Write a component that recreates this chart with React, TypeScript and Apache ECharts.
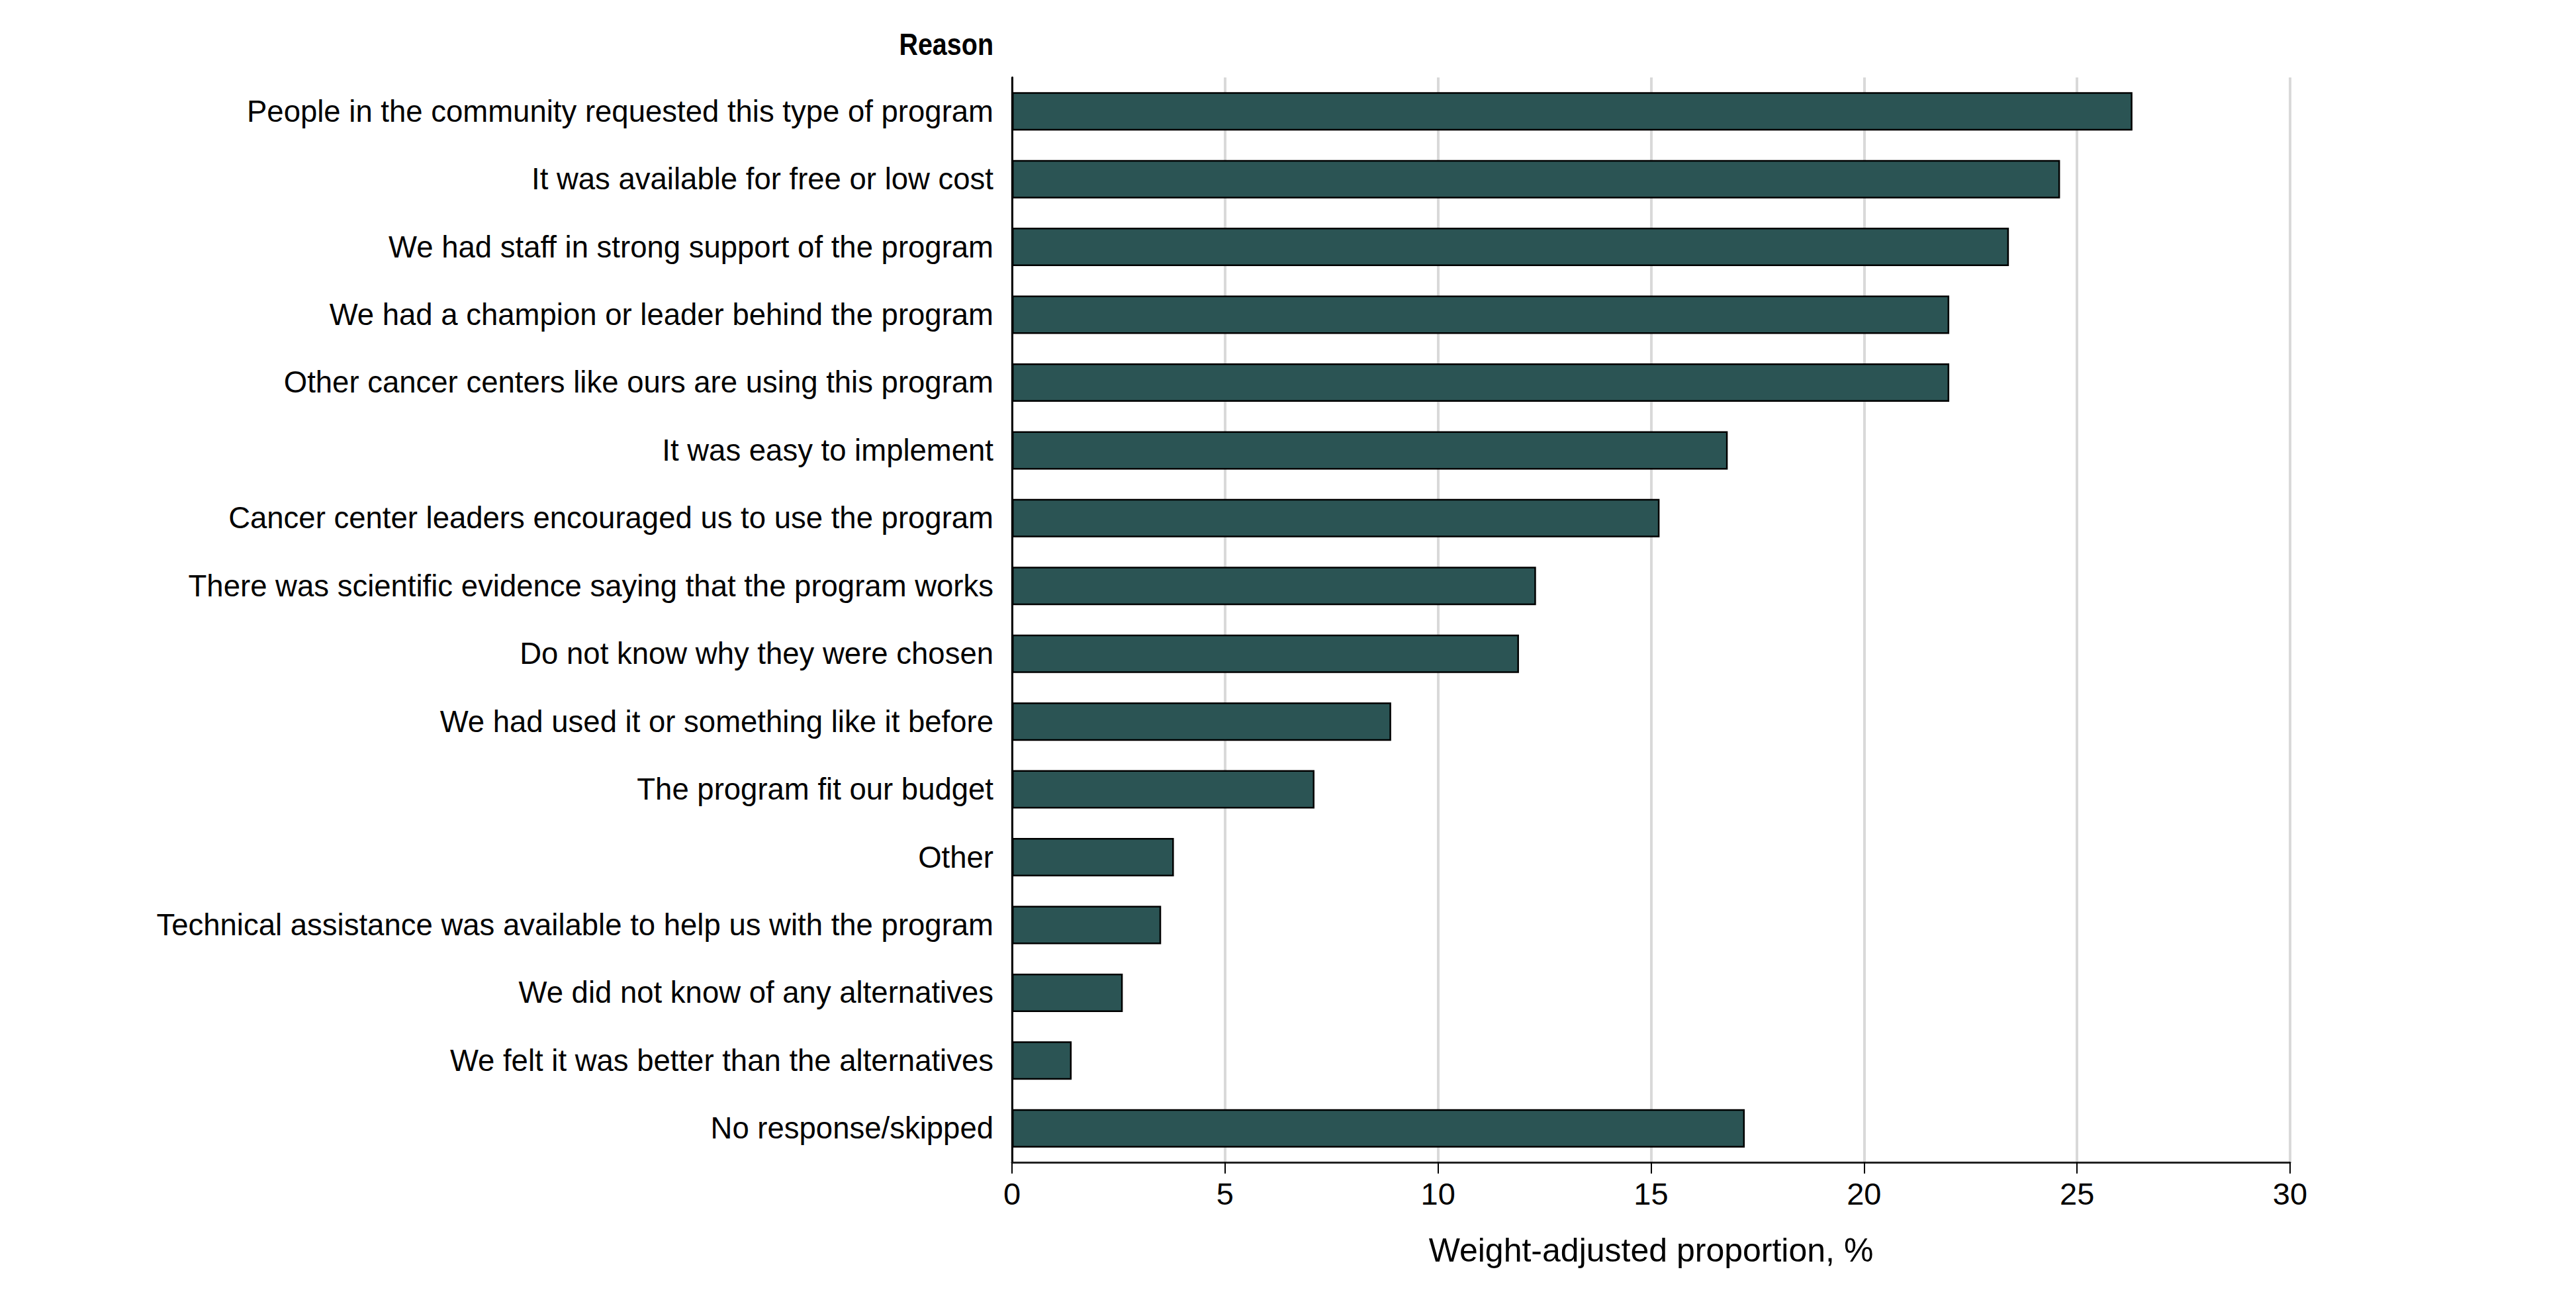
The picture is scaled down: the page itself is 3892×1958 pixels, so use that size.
import React, { useEffect, useRef } from "react";
import * as echarts from "echarts";

const categories = [
  "People in the community requested this type of program",
  "It was available for free or low cost",
  "We had staff in strong support of the program",
  "We had a champion or leader behind the program",
  "Other cancer centers like ours are using this program",
  "It was easy to implement",
  "Cancer center leaders encouraged us to use the program",
  "There was scientific evidence saying that the program works",
  "Do not know why they were chosen",
  "We had used it or something like it before",
  "The program fit our budget",
  "Other",
  "Technical assistance was available to help us with the program",
  "We did not know of any alternatives",
  "We felt it was better than the alternatives",
  "No response/skipped",
];

const proportions = [26.3, 24.6, 23.4, 22.0, 22.0, 16.8, 15.2, 12.3, 11.9, 8.9, 7.1, 3.8, 3.5, 2.6, 1.4, 17.2];

const xTicks = [0, 5, 10, 15, 20, 25, 30];
const xAxisTitle = "Weight-adjusted proportion, %";
const yAxisTitle = "Reason";

const FONT = "'Liberation Sans', Arial, sans-serif";

export default function App() {
  const ref = useRef<HTMLDivElement>(null);

  useEffect(() => {
    if (!ref.current) return;
    const chart = echarts.init(ref.current, null, { renderer: "svg" });
    chart.setOption({
      animation: false,
      backgroundColor: "#ffffff",
      grid: { left: 1529, right: 432, top: 117, bottom: 202, containLabel: false },
      xAxis: {
        type: "value",
        min: xTicks[0],
        max: xTicks[xTicks.length - 1],
        interval: 5,
        name: xAxisTitle,
        nameLocation: "middle",
        nameGap: 108,
        nameTextStyle: { fontFamily: FONT, fontSize: 50, color: "#000" },
        axisLine: { show: true, lineStyle: { color: "#222", width: 3 } },
        axisTick: { show: true, length: 17, lineStyle: { color: "#000", width: 2 } },
        axisLabel: { fontFamily: FONT, fontSize: 47, color: "#000", margin: 24 },
        splitLine: { show: true, lineStyle: { color: "#d9d9d9", width: 4 } },
      },
      yAxis: {
        type: "category",
        inverse: true,
        data: categories,
        axisLine: { show: true, lineStyle: { color: "#000", width: 3 } },
        axisTick: { show: false },
        axisLabel: { fontFamily: FONT, fontSize: 45.5, color: "#000", margin: 28 },
        splitLine: { show: false },
      },
      graphic: [
        {
          type: "text",
          x: 1501,
          y: 67,
          scaleX: 0.84,
          style: {
            text: yAxisTitle,
            fontFamily: FONT,
            fontWeight: "bold",
            fontSize: 47,
            fill: "#000",
            textAlign: "right",
            textVerticalAlign: "middle",
          },
        },
      ],
      series: [
        {
          type: "bar",
          data: proportions,
          barWidth: 58,
          itemStyle: { color: "#2b5454", borderColor: "#000", borderWidth: 2.5 },
        },
      ],
    });
    return () => chart.dispose();
  }, []);

  return (
    <div
      ref={ref}
      style={{ position: "fixed", left: 0, top: 0, width: 3892, height: 1958, background: "#fff" }}
    />
  );
}
